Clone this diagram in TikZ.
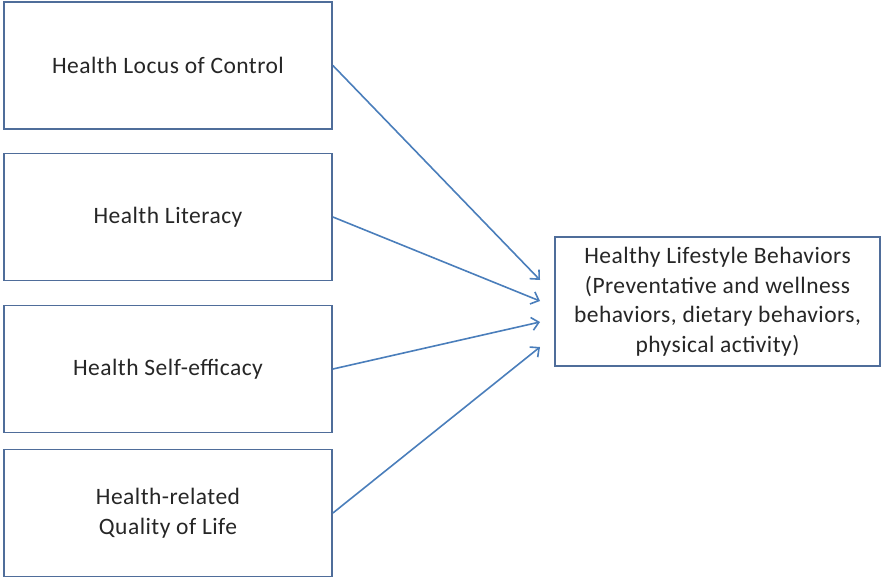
\documentclass[tikz,border=0pt]{standalone}
\usepackage{fontspec}
\setmainfont[LetterSpace=2]{Carlito}
\usetikzlibrary{arrows.meta}
\definecolor{boxline}{HTML}{4F6D9A}
\definecolor{arrowcol}{HTML}{4A7EBB}
\begin{document}
\begin{tikzpicture}[x=1pt,y=-1pt,
  box/.style={draw=boxline, line width=1.8pt, fill=white, align=center,
    font=\fontsize{23.5}{29.5}\selectfont, text=black!85, inner sep=0pt},
  leftbox/.style={box, minimum width=328pt, minimum height=127pt},
  conn/.style={draw=arrowcol, line width=1.6pt, -{Straight Barb[length=7pt,width=13pt,line width=1.6pt]}}]
\useasboundingbox (0,0) rectangle (882,579);
\node[leftbox] (b1) at (168,65.5) {Health Locus of Control};
\node[leftbox] (b2) at (168,217) {Health Literacy};
\node[leftbox] (b3) at (168,369) {Health Self-efficacy};
\node[leftbox] (b4) at (168,513) {Health-related\\Quality of Life};
\node[box, minimum width=325pt, minimum height=129pt] (hb) at (717.5,301.5)
  {Healthy Lifestyle Behaviors\\(Preventative and wellness\\behaviors, dietary behaviors,\\physical activity)};
\coordinate (e1) at (540,280);
\coordinate (e2) at (540,301);
\coordinate (e3) at (540,322);
\coordinate (e4) at (540,347);
\draw[conn] (b1.east) -- (e1);
\draw[conn] (b2.east) -- (e2);
\draw[conn] (b3.east) -- (e3);
\draw[conn] (b4.east) -- (e4);
\end{tikzpicture}
\end{document}
